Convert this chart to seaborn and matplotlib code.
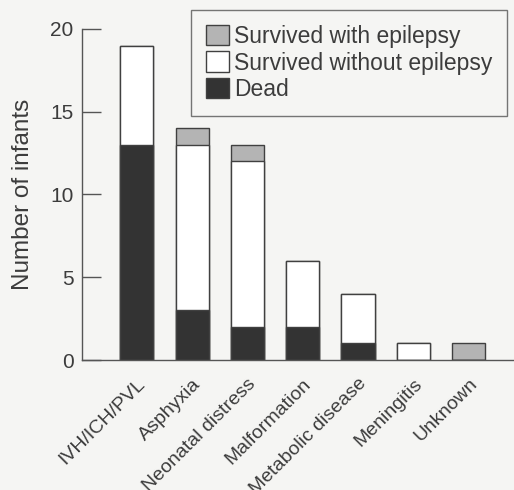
import matplotlib
matplotlib.use("Agg")
import matplotlib.pyplot as plt
import seaborn as sns
import pandas as pd
import numpy as np
from matplotlib.patches import Patch

categories = ["IVH/ICH/PVL", "Asphyxia", "Neonatal distress", "Malformation",
              "Metabolic disease", "Meningitis", "Unknown"]
dead = [13, 3, 2, 2, 1, 0, 0]
survived_without = [6, 10, 10, 4, 3, 1, 0]
survived_with = [0, 1, 1, 0, 0, 0, 1]

sns.set_style("white")
plt.rcParams['font.family'] = ['Liberation Sans', 'DejaVu Sans']

bg = "#f5f5f3"
text_col = "#3c3c3c"
c_dead = "#333333"
c_without = "#ffffff"
c_with = "#b4b4b4"
edge = "#404040"

df = pd.DataFrame({
    "cat": categories,
    "dead": dead,
    "mid": np.array(dead) + np.array(survived_without),
    "total": np.array(dead) + np.array(survived_without) + np.array(survived_with),
})

fig = plt.figure(figsize=(5.14, 4.90), dpi=100, facecolor=bg)
ax = fig.add_axes([82/514, 1-360/490, (513-82)/514, (360-29)/490])
ax.set_facecolor(bg)

for col, color in [("total", c_with), ("mid", c_without), ("dead", c_dead)]:
    sns.barplot(data=df, x="cat", y=col, color=color, width=0.6, ax=ax,
                edgecolor=edge, linewidth=1.0, saturation=1)

ax.set_xlim(-0.99, 6.8)
ax.set_ylim(0, 20)
ax.set_yticks([0, 5, 10, 15, 20])
ax.set_xlabel("")
ax.set_ylabel("Number of infants", fontsize=17.5, color=text_col, labelpad=12)
ax.tick_params(axis="y", direction="in", length=14, width=1, color="#555555",
               labelsize=15, labelcolor=text_col, pad=6, left=True)
ax.tick_params(axis="x", length=0, labelsize=14, labelcolor=text_col, pad=11)
for lbl in ax.get_xticklabels():
    lbl.set_rotation(45)
    lbl.set_ha("right")
    lbl.set_va("top")
    lbl.set_rotation_mode("anchor")

sns.despine(ax=ax, top=True, right=True)
for s in ["left", "bottom"]:
    ax.spines[s].set_color("#555555")
    ax.spines[s].set_linewidth(1)

handles = [Patch(facecolor=c_with, edgecolor=edge, label="Survived with epilepsy"),
           Patch(facecolor=c_without, edgecolor=edge, label="Survived without epilepsy"),
           Patch(facecolor=c_dead, edgecolor=edge, label="Dead")]
leg = fig.legend(handles=handles, loc="upper right", bbox_to_anchor=(507/514, 1-10/490),
                 borderaxespad=0, fontsize=16.5, frameon=True, fancybox=False,
                 handlelength=1.0, handleheight=1.0, handletextpad=0.2,
                 labelspacing=0.15, borderpad=0.65, labelcolor=text_col)
leg.get_frame().set_edgecolor("#555555")
leg.get_frame().set_facecolor(bg)
leg.get_frame().set_linewidth(1)

fig.savefig("out.png", dpi=100, facecolor=bg)
